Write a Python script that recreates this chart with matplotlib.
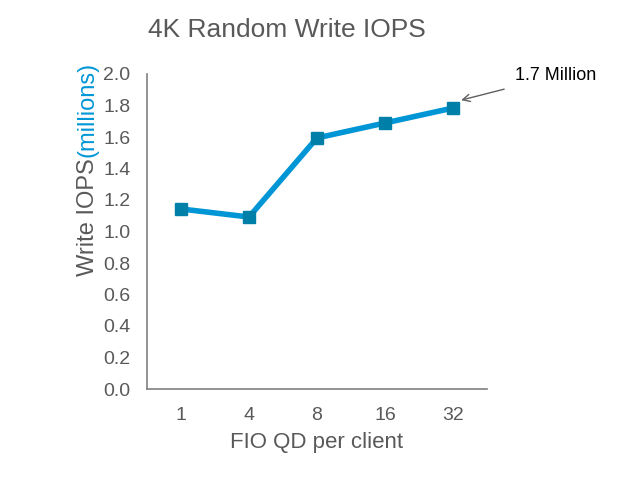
import matplotlib
matplotlib.use("Agg")
import matplotlib.pyplot as plt

categories = ["1", "4", "8", "16", "32"]
values = [1.143, 1.092, 1.594, 1.689, 1.784]
yticks = [0.0, 0.2, 0.4, 0.6, 0.8, 1.0, 1.2, 1.4, 1.6, 1.8, 2.0]

plt.rcParams['font.family'] = ['Liberation Sans', 'DejaVu Sans']
gray = '#595959'
fig = plt.figure(figsize=(6.4, 4.8), dpi=100)
ax = fig.add_axes([147/640, 1-389/480, 340/640, 315/480])
x = list(range(len(categories)))
ax.plot(x, values, color='#0096D6', lw=4, marker='s', markersize=9,
        markerfacecolor='#0080A8', markeredgecolor='#0080A8', zorder=3)
ax.set_xlim(-0.5, len(categories) - 0.5)
ax.set_ylim(0, 2.0)
ax.set_xticks(x)
ax.set_xticklabels(categories)
ax.set_yticks(yticks)
ax.set_yticklabels([f"{v:.1f}" for v in yticks])
ax.tick_params(length=0, labelsize=14, colors=gray)
ax.tick_params(axis='y', pad=12)
ax.tick_params(axis='x', pad=13)
for s in ['top', 'right']:
    ax.spines[s].set_visible(False)
for s in ['left', 'bottom']:
    ax.spines[s].set_color('#808080')
    ax.spines[s].set_linewidth(1.2)

ax.set_xlabel("FIO QD per client", fontsize=16, color=gray, labelpad=6)
fig.text(148/640, 1-30/480, "4K Random Write IOPS", fontsize=19, color=gray, va='center', ha='left')

# y label in two colours
t1 = fig.text(88/640, 1-276/480, "Write IOPS", rotation=90, fontsize=17, color=gray,
              ha='center', va='bottom')
fig.canvas.draw()
bb = t1.get_window_extent()
fig.text(88/640, (bb.y1 + 1)/480, "(millions)", rotation=90, fontsize=17, color='#0096D6',
         ha='center', va='bottom')

ax.annotate("1.7 Million", xy=(len(categories)-1 + 0.12, values[-1] + 0.05),
            xytext=(515/640, 1-76/480), textcoords='figure fraction',
            fontsize=13, color='black', va='center', ha='left',
            arrowprops=dict(arrowstyle='->', color='#606060', lw=1, shrinkA=6, shrinkB=0),
            annotation_clip=False)

fig.savefig("out.png", dpi=100)
